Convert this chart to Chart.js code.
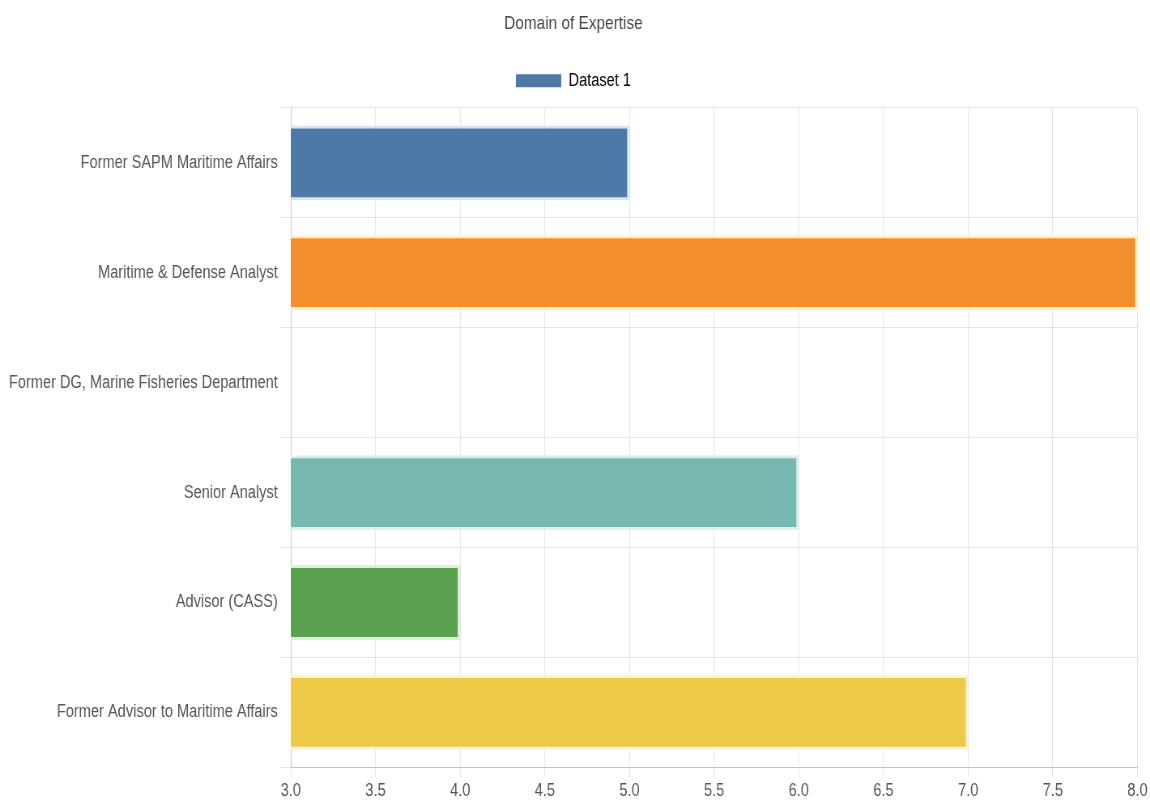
<!DOCTYPE html>
<html>
<head>
<meta charset="utf-8">
<script src="https://cdn.jsdelivr.net/npm/chart.js@4.4.1/dist/chart.umd.min.js"></script>
<style>
  html, body { margin: 0; padding: 0; background: #fff; overflow: hidden; }
  /* chart is laid out wider, then squeezed horizontally to 1150px */
  #wrap { width: 1420px; height: 805px; transform: scaleX(0.8099); transform-origin: 0 0; }
</style>
</head>
<body>
<div id="wrap"><canvas id="myChart"></canvas></div>
<script>
// Expertise categories and their scores
const labels = [
    'Former SAPM Maritime Affairs',
    'Maritime & Defense Analyst',
    'Former DG, Marine Fisheries Department',
    'Senior Analyst',
    'Advisor (CASS)',
    'Former Advisor to Maritime Affairs'
];
const values = [5, 8, 3, 6, 4, 7];
const barColors = ['#4e79a7', '#f28e2b', '#e15759', '#76b7b2', '#59a14f', '#edc948'];
const edgeColors = ['#d4e4f2', '#fdefc6', '#f9d6d6', '#dcefec', '#dcf0d6', '#fbf3d2'];

Chart.defaults.font.family = "'Liberation Sans', Arial, sans-serif";
Chart.defaults.color = '#666';

// Extra space under the legend
const legendGap = {
    id: 'legendGap',
    beforeInit(chart) {
        const origFit = chart.legend.fit;
        chart.legend.fit = function () {
            origFit.bind(chart.legend)();
            this.height += 8;
        };
    }
};

const ctx = document.getElementById('myChart');
let myChart = new Chart(ctx, {
    type: 'bar',
    data: {
        labels: labels,
        datasets: [{
            label: 'Dataset 1',
            data: values,
            backgroundColor: barColors,
            borderColor: edgeColors,
            borderWidth: 3,
            barPercentage: 0.85,
            categoryPercentage: 0.8
        }]
    },
    plugins: [legendGap],
    options: {
        indexAxis: 'y',
        responsive: true,
        maintainAspectRatio: false,
        animation: false,
        layout: { padding: { left: 8, right: 12, top: 0, bottom: 0 } },
        plugins: {
            title: {
                display: true,
                text: 'Domain of Expertise',
                font: { size: 19, weight: 'normal' },
                color: '#444',
                padding: { top: 12, bottom: 10 }
            },
            legend: {
                display: true,
                labels: {
                    boxWidth: 56,
                    boxHeight: 13,
                    padding: 27,
                    font: { size: 18 },
                    color: '#555',
                    generateLabels: () => [{
                        text: 'Dataset 1',
                        fillStyle: barColors[0],
                        strokeStyle: barColors[0],
                        lineWidth: 0
                    }]
                }
            },
            tooltip: { enabled: false }
        },
        scales: {
            x: {
                min: 3,
                max: 8,
                ticks: {
                    stepSize: 0.5,
                    font: { size: 18 },
                    color: '#555',
                    callback: v => Number(v).toFixed(1)
                },
                grid: { color: 'rgba(0,0,0,0.1)', tickLength: 10 },
                border: { color: 'rgba(0,0,0,0.15)' }
            },
            y: {
                ticks: { font: { size: 18 }, color: '#555' },
                grid: { color: 'rgba(0,0,0,0.1)', offset: true, tickLength: 13 },
                border: { color: 'rgba(0,0,0,0.15)' }
            }
        }
    }
});
</script>
</body>
</html>
